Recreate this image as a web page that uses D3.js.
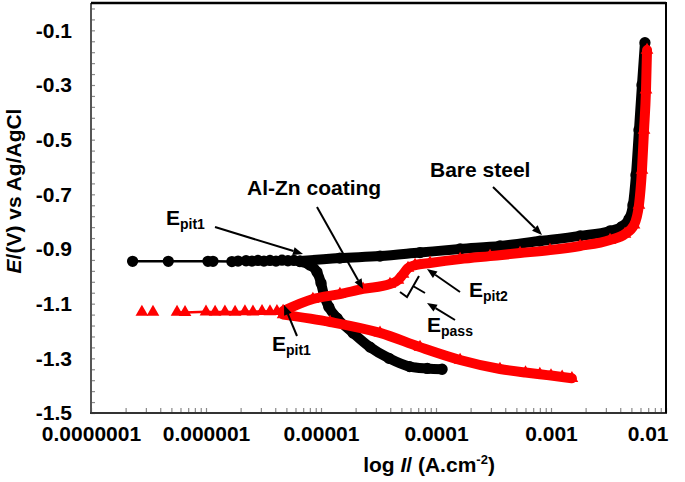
<!DOCTYPE html>
<html>
<head>
<meta charset="utf-8">
<script src="https://cdn.jsdelivr.net/npm/d3@7"></script>
<style>
  body { margin: 0; background: #fff; }
  svg text { font-family: "Liberation Sans", Arial, sans-serif; font-weight: bold; fill: #000; }
</style>
</head>
<body>
<div id="chart"></div>
<script>
// tick labels
var xTickValues = [1e-7, 1e-6, 1e-5, 1e-4, 1e-3, 1e-2];
var xTickLabels = ["0.0000001", "0.000001", "0.00001", "0.0001", "0.001", "0.01"];
var yTickValues = [-0.1, -0.3, -0.5, -0.7, -0.9, -1.1, -1.3, -1.5];
var yTickLabels = ["-0.1", "-0.3", "-0.5", "-0.7", "-0.9", "-1.1", "-1.3", "-1.5"];

// Bare steel, [current density (A/cm2), potential (V)]
var bareEcorr = [[2.3e-7, -0.945], [4.7e-7, -0.945], [1.04e-6, -0.945], [1.15e-6, -0.945], [1.68e-6, -0.946],
  [1.9e-6, -0.944], [2.23e-6, -0.943], [2.51e-6, -0.944], [2.83e-6, -0.942], [3.19e-6, -0.944],
  [3.6e-6, -0.942], [4.06e-6, -0.944], [4.58e-6, -0.941], [5.16e-6, -0.943], [5.82e-6, -0.942], [6.56e-6, -0.944]];
var bareCathodic = [[6.56e-6, -0.946], [8.0e-6, -0.959], [9.22e-6, -0.984], [1.0e-5, -1.024], [1.06e-5, -1.068],
  [1.17e-5, -1.112], [1.38e-5, -1.153], [1.9e-5, -1.207], [2.67e-5, -1.259], [3.9e-5, -1.30],
  [5.9e-5, -1.330], [8.4e-5, -1.337], [1.13e-4, -1.340]];
var bareAnodic = [[6.56e-6, -0.944], [1.46e-5, -0.933], [3.26e-5, -0.926], [7.26e-5, -0.913], [1.62e-4, -0.900],
  [3.6e-4, -0.889], [8.0e-4, -0.871], [1.79e-3, -0.852], [3.26e-3, -0.834], [4.14e-3, -0.818],
  [4.77e-3, -0.790], [5.16e-3, -0.739], [5.48e-3, -0.629], [5.82e-3, -0.465], [6.18e-3, -0.300], [6.56e-3, -0.145]];

// Al-Zn coating
var coatEcorr = [[2.77e-7, -1.131], [3.46e-7, -1.131], [5.6e-7, -1.131], [6.57e-7, -1.132], [1.0e-6, -1.130],
  [1.2e-6, -1.131], [1.46e-6, -1.130], [1.79e-6, -1.131], [2.18e-6, -1.129], [2.56e-6, -1.130],
  [3.07e-6, -1.128], [3.6e-6, -1.129], [4.14e-6, -1.128]];
var coatCathodic = [[4.68e-6, -1.140], [1.2e-5, -1.167], [3.26e-5, -1.207], [7.26e-5, -1.259], [1.62e-4, -1.306],
  [3.6e-4, -1.339], [6.0e-4, -1.352], [8.0e-4, -1.358], [1.0e-3, -1.363], [1.25e-3, -1.368], [1.52e-3, -1.373]];
var coatAnodic = [[4.68e-6, -1.127], [8.5e-6, -1.083], [1.46e-5, -1.065], [2.32e-5, -1.046], [3.98e-5, -1.028],
  [4.67e-5, -1.014], [5.17e-5, -0.992], [5.71e-5, -0.970], [6.57e-5, -0.959], [8.87e-5, -0.951],
  [1.62e-4, -0.937], [2.95e-4, -0.926], [5.38e-4, -0.915], [9.8e-4, -0.904], [1.79e-3, -0.889],
  [3.26e-3, -0.867], [4.4e-3, -0.845], [5.27e-3, -0.812], [5.82e-3, -0.739], [6.18e-3, -0.611],
  [6.44e-3, -0.465], [6.7e-3, -0.318], [6.84e-3, -0.172]];

var width = 685, height = 482;
var svg = d3.select("#chart").append("svg").attr("width", width).attr("height", height);

var x = d3.scaleLog().domain([1e-7, 1e-2]).range([91, 666]);
var y = d3.scaleLinear().domain([-1.5, 0]).range([413, 3]);

var line = d3.line().x(function(d) { return x(d[0]); }).y(function(d) { return y(d[1]); });

// minor ticks on both axes (inside)
svg.append("g").attr("class", "minor").attr("transform", "translate(0,413)")
  .call(d3.axisBottom(x).tickValues(x.ticks()).tickSize(-5).tickSizeOuter(0).tickFormat(""));
svg.append("g").attr("class", "minor").attr("transform", "translate(91,0)")
  .call(d3.axisLeft(y).tickValues(d3.range(0, 38).map(function(i) { return -1.5 + i * 0.04; }))
    .tickSize(-4).tickSizeOuter(0).tickFormat(""));
svg.selectAll(".minor .tick line").attr("stroke", "#8a8a8a").attr("stroke-width", 1.2);
svg.selectAll(".minor .domain").remove();

// axis labels
var xAxis = svg.append("g").attr("transform", "translate(0,413)")
  .call(d3.axisBottom(x).tickValues(xTickValues).tickSize(0).tickPadding(13)
    .tickFormat(function(d, i) { return xTickLabels[i]; }));
var yAxis = svg.append("g").attr("transform", "translate(91,0)")
  .call(d3.axisLeft(y).tickValues(yTickValues).tickSize(0).tickPadding(19)
    .tickFormat(function(d, i) { return yTickLabels[i]; }));
xAxis.select(".domain").remove();
yAxis.select(".domain").remove();
svg.selectAll(".tick text").style("font-size", "21px").attr("fill", "#000");
xAxis.selectAll(".tick text").filter(function(d, i) { return i === xTickValues.length - 1; })
  .attr("text-anchor", "end").attr("dx", 2);

// frame
svg.append("line").attr("x1", 91).attr("x2", 91).attr("y1", 3).attr("y2", 414)
  .attr("stroke", "#555").attr("stroke-width", 2);
svg.append("line").attr("x1", 90).attr("x2", 667).attr("y1", 413).attr("y2", 413)
  .attr("stroke", "#333").attr("stroke-width", 2);
svg.append("line").attr("x1", 91).attr("x2", 666).attr("y1", 3).attr("y2", 3)
  .attr("stroke", "#000").attr("stroke-width", 2.5);
svg.append("line").attr("x1", 666).attr("x2", 666).attr("y1", 2).attr("y2", 413)
  .attr("stroke", "#000").attr("stroke-width", 2);

// titles
var yt = svg.append("text").attr("transform", "translate(21,191) rotate(-90)")
  .attr("text-anchor", "middle").style("font-size", "21px");
yt.append("tspan").style("font-style", "italic").text("E");
yt.append("tspan").text("/(V) vs Ag/AgCl");

var xt = svg.append("text").attr("x", 429).attr("y", 472).attr("text-anchor", "middle").style("font-size", "21px");
xt.append("tspan").text("log ");
xt.append("tspan").style("font-style", "italic").text("I");
xt.append("tspan").text("/ (A.cm");
xt.append("tspan").attr("dy", -8).style("font-size", "13px").text("-2");
xt.append("tspan").attr("dy", 8).text(")");

// series
function drawSeries(color, ecorr, branches, symbol, size, skip) {
  var g = svg.append("g");
  g.append("path").datum(ecorr.slice(skip)).attr("d", line)
    .attr("fill", "none").attr("stroke", color).attr("stroke-width", 2.5);
  var smooth = d3.line().x(line.x()).y(line.y()).curve(d3.curveMonotoneX);
  branches.forEach(function(b) {
    g.append("path").datum(b).attr("d", smooth)
      .attr("fill", "none").attr("stroke", color).attr("stroke-width", 10)
      .attr("stroke-linejoin", "round").attr("stroke-linecap", "round");
  });
  var pts = ecorr.concat.apply(ecorr, branches);
  g.selectAll(".m").data(pts).enter().append("path")
    .attr("transform", function(d) { return "translate(" + x(d[0]) + "," + y(d[1]) + ")"; })
    .attr("d", d3.symbol().type(symbol).size(size))
    .attr("fill", color);
}
drawSeries("#000", bareEcorr, [bareCathodic, bareAnodic], d3.symbolCircle, 100, 0);
drawSeries("#f00", coatEcorr, [coatCathodic, coatAnodic], d3.symbolTriangle, 70, 2);

// annotations (pixel layout)
function arrow(x1, y1, x2, y2) {
  var a = Math.atan2(y2 - y1, x2 - x1), L = 10, W = 4;
  var bx = x2 - L * Math.cos(a), by = y2 - L * Math.sin(a);
  svg.append("line").attr("x1", x1).attr("y1", y1).attr("x2", bx).attr("y2", by)
    .attr("stroke", "#000").attr("stroke-width", 2);
  svg.append("path").attr("fill", "#000").attr("d",
    "M" + x2 + "," + y2 +
    "L" + (bx + W * Math.sin(a)) + "," + (by - W * Math.cos(a)) +
    "L" + (bx - W * Math.sin(a)) + "," + (by + W * Math.cos(a)) + "Z");
}
function label(tx, ty, main, sub) {
  var t = svg.append("text").attr("x", tx).attr("y", ty).style("font-size", "21px");
  t.append("tspan").text(main);
  if (sub) t.append("tspan").attr("dy", 4).style("font-size", "14px").text(sub);
}

label(430, 177, "Bare steel");
arrow(493, 187, 542, 235);
label(247, 195, "Al-Zn coating");
arrow(317, 207, 363, 289);
label(166, 225, "E", "pit1");
arrow(215, 227, 303, 254);
label(272, 351, "E", "pit1");
arrow(297, 336, 284, 305);
label(469, 297, "E", "pit2");
arrow(460, 292, 427, 269);
label(427, 332, "E", "pass");
arrow(455, 320, 427, 303);

svg.append("path").attr("fill", "none").attr("stroke", "#000").attr("stroke-width", 2)
  .attr("d", "M400,292L407,297L419,276M413,286L425,293");
</script>
</body>
</html>
